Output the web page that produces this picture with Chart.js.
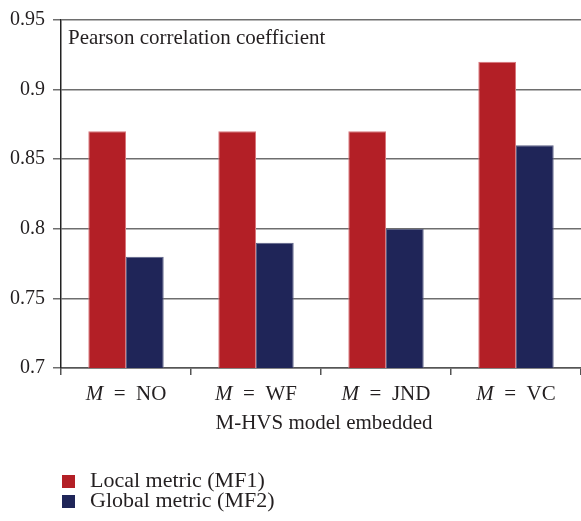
<!DOCTYPE html>
<html>
<head>
<meta charset="utf-8">
<script src="https://cdn.jsdelivr.net/npm/chart.js@4/dist/chart.umd.min.js"></script>
<style>
    html, body { margin: 0; padding: 0; background: #fff; }
    #wrap { position: relative; width: 581px; height: 521px; }
</style>
</head>
<body>
<div id="wrap"><canvas id="pccChart"></canvas></div>
<script>
// Data
const models = ['NO', 'WF', 'JND', 'VC'];
const localMetric = [0.87, 0.87, 0.87, 0.92];
const globalMetric = [0.78, 0.79, 0.80, 0.86];
const yTicks = [0.7, 0.75, 0.8, 0.85, 0.9, 0.95];

const serif = '"Liberation Serif", "DejaVu Serif", serif';
const textColor = '#231f20';

// Italic "M" + " = NO" labels, inside-plot caption and vertical legend
const annotations = {
    id: 'annotations',
    afterDraw(chart) {
        const ctx = chart.ctx;
        const x = chart.scales.x;
        const area = chart.chartArea;
        ctx.save();
        ctx.fillStyle = textColor;
        ctx.textBaseline = 'middle';

        // category labels
        models.forEach((m, i) => {
            const cx = x.getPixelForValue(i);
            ctx.font = 'italic 21px ' + serif;
            const a = 'M';
            const wa = ctx.measureText(a).width;
            ctx.font = '21px ' + serif;
            const b = '  =  ' + m;
            const wb = ctx.measureText(b).width;
            const left = cx - (wa + wb) / 2;
            ctx.textAlign = 'left';
            ctx.font = 'italic 21px ' + serif;
            ctx.fillText(a, left, 394);
            ctx.font = '21px ' + serif;
            ctx.fillText(b, left + wa, 394);
        });

        // axis title
        ctx.font = '21px ' + serif;
        ctx.textAlign = 'center';
        ctx.fillText('M-HVS model embedded', (area.left + area.right) / 2 + 3, 423);

        // caption inside the plot
        ctx.textAlign = 'left';
        ctx.fillText('Pearson correlation coefficient', area.left + 7, 38);

        // legend
        ctx.font = '22px ' + serif;
        chart.data.datasets.forEach((ds, i) => {
            const y = 481 + i * 20;
            ctx.fillStyle = ds.backgroundColor;
            ctx.fillRect(62, y - 6, 13, 13);
            ctx.fillStyle = textColor;
            ctx.fillText(ds.label, 90, y);
        });
        ctx.restore();
    }
};

const ctx = document.getElementById('pccChart').getContext('2d');
new Chart(ctx, {
    type: 'bar',
    data: {
        labels: models.map(m => 'M = ' + m),
        datasets: [{
            label: 'Local metric (MF1)',
            data: localMetric,
            backgroundColor: '#b31f26',
            borderColor: '#d9767b',
            borderWidth: 1,
            categoryPercentage: 0.58,
            barPercentage: 1.0
        }, {
            label: 'Global metric (MF2)',
            data: globalMetric,
            backgroundColor: '#1f2558',
            borderColor: '#5c6186',
            borderWidth: 1,
            categoryPercentage: 0.58,
            barPercentage: 1.0
        }]
    },
    options: {
        responsive: true,
        maintainAspectRatio: false,
        animation: false,
        layout: { padding: { top: 18, right: 0, left: 0, bottom: 0 } },
        plugins: {
            legend: { display: false },
            tooltip: { enabled: false }
        },
        scales: {
            x: {
                afterFit: s => { s.height = 153; },
                ticks: { display: false },
                grid: {
                    drawOnChartArea: false,
                    drawTicks: true,
                    tickLength: 7,
                    color: '#555',
                    lineWidth: 1.5
                },
                border: { color: '#555', width: 1.5 }
            },
            y: {
                min: 0.7,
                max: 0.95,
                afterFit: s => { s.width = 61; },
                afterBuildTicks: s => { s.ticks = yTicks.map(v => ({ value: v })); },
                ticks: {
                    padding: 8,
                    color: textColor,
                    font: { family: serif, size: 20 },
                    callback: v => String(Number(v.toFixed(2)))
                },
                grid: {
                    color: '#6e6e6e',
                    lineWidth: 1.5,
                    tickLength: 8
                },
                border: { color: '#222', width: 1.5 }
            }
        }
    },
    plugins: [annotations]
});
</script>
</body>
</html>
